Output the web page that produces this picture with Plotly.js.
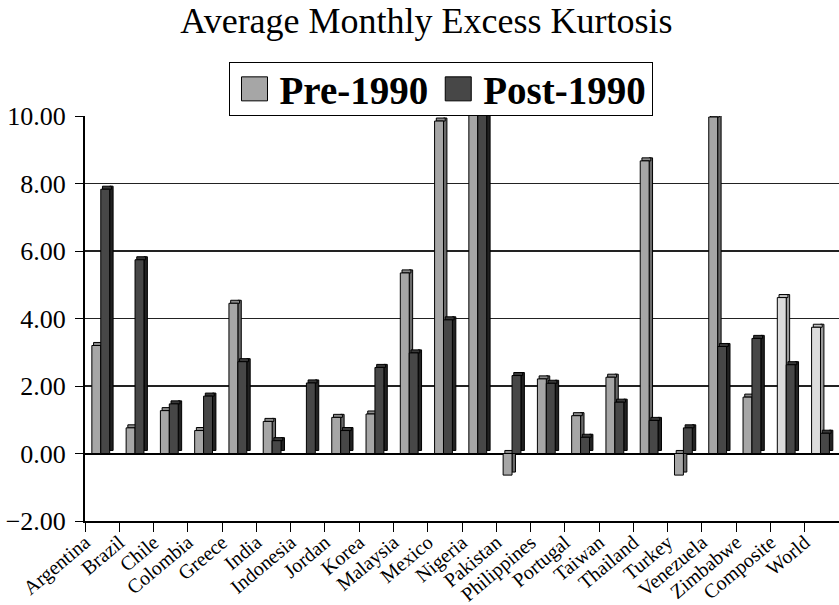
<!DOCTYPE html>
<html>
<head>
<meta charset="utf-8">
<script src="https://cdn.plot.ly/plotly-3.0.1.min.js"></script>
<style>
  html, body { margin: 0; padding: 0; background: #fff; }
  #chart { width: 839px; height: 605px; }
</style>
</head>
<body>
<div id="chart"></div>
<script>
// ---- data ----
const categories = ['Argentina','Brazil','Chile','Colombia','Greece','India','Indonesia','Jordan','Korea','Malaysia','Mexico','Nigeria','Pakistan','Philippines','Portugal','Taiwan','Thailand','Turkey','Venezuela','Zimbabwe','Composite','World'];
const pre1990  = [3.20, 0.76, 1.27, 0.68, 4.45, 0.95, null, 1.07, 1.17, 5.35, 9.85, 11.5, -0.64, 2.21, 1.12, 2.26, 8.67, -0.64, 9.97, 1.67, 4.62, 3.74];
const post1990 = [7.83, 5.74, 1.47, 1.70, 2.72, 0.38, 2.09, 0.68, 2.55, 2.98, 3.96, 11.5, 2.31, 2.08, 0.48, 1.52, 0.98, 0.76, 3.17, 3.41, 2.63, 0.60];
const yTickVals = [-2, 0, 2, 4, 6, 8, 10];
const seriesNames = ['Pre-1990', 'Post-1990'];
const aggregateCats = ['Composite', 'World'];

// ---- styles ----
const FONT = '"Liberation Serif", "Times New Roman", serif';
const preFront = categories.map(c => aggregateCats.includes(c) ? '#dcdcdc' : '#a6a6a6');
const preTop   = categories.map(c => aggregateCats.includes(c) ? '#c2c2c2' : '#8a8a8a');
const preSide  = categories.map(c => aggregateCats.includes(c) ? '#9a9a9a' : '#6a6a6a');
const postFront = '#474747', postTop = '#383838', postSide = '#222222';
const DEPTH_X = 0.1;   // category units
const DEPTH_Y = 0.09;  // value units
const W = 0.26;
const PRE_OFF = -0.30, POST_OFF = -0.04;
const outline = { color: '#000', width: 1 };

function faces(vals, name, off, front, top, side, showLegend) {
  const sideBase = vals.map(v => v == null ? null : Math.min(v, 0) + DEPTH_Y);
  const sideH    = vals.map(v => v == null ? null : Math.abs(v));
  const topBase  = vals.map(v => v == null ? null : Math.max(v, 0));
  const topH     = vals.map(v => v == null ? null : DEPTH_Y);
  return [
    { type: 'bar', x: categories, y: sideH, base: sideBase, offset: off + W, width: DEPTH_X,
      marker: { color: side, line: outline }, showlegend: false, hoverinfo: 'skip' },
    { type: 'bar', x: categories, y: topH, base: topBase, offset: off + DEPTH_X / 2, width: W,
      marker: { color: top, line: outline }, showlegend: false, hoverinfo: 'skip' },
    { type: 'bar', name: name, x: categories, y: vals, offset: off, width: W,
      marker: { color: front, line: outline }, showlegend: showLegend }
  ];
}

const traces = [].concat(
  faces(pre1990, seriesNames[0], PRE_OFF, preFront, preTop, preSide, true),
  faces(post1990, seriesNames[1], POST_OFF, postFront, postTop, postSide, true)
);

const layout = {
  width: 839, height: 605,
  margin: { l: 85, r: 0, t: 116, b: 84, pad: 0 },
  paper_bgcolor: '#fff', plot_bgcolor: '#fff',
  font: { family: FONT, color: '#000' },
  barmode: 'overlay',
  title: { text: 'Average Monthly Excess Kurtosis', font: { family: FONT, size: 36, color: '#000' },
           xref: 'container', x: 0.5083, xanchor: 'center', yref: 'container', y: 0.966, yanchor: 'middle' },
  xaxis: {
    type: 'category', range: [-0.5, 21.5], tickson: 'boundaries',
    ticks: 'outside', ticklen: 9, tickcolor: '#000', tickwidth: 1,
    showline: true, linecolor: '#000', linewidth: 2,
    showgrid: false, tickangle: -40, ticklabelshift: -17,
    tickfont: { family: FONT, size: 20, color: '#000' }
  },
  yaxis: {
    range: [-2, 10], tickvals: yTickVals, tickformat: '.2f',
    ticks: 'outside', ticklen: 8, tickcolor: '#000', ticklabelstandoff: 4,
    showline: true, linecolor: '#000', linewidth: 2,
    showgrid: true, gridcolor: '#222', gridwidth: 1.2,
    zeroline: true, zerolinecolor: '#000', zerolinewidth: 2,
    tickfont: { family: FONT, size: 26, color: '#000' }
  },
  legend: {
    orientation: 'h', xref: 'paper', x: 0.4715, xanchor: 'center', y: 1, yanchor: 'bottom',
    bgcolor: '#fff', bordercolor: '#000', borderwidth: 1, itemwidth: 40,
    font: { family: FONT, size: 39, color: '#000', weight: 700 },
    traceorder: 'normal'
  },
  showlegend: true
};

Plotly.newPlot('chart', traces, layout, { displayModeBar: false, staticPlot: true }).then(function () {
  // enlarge legend swatches to the reference's size
  document.querySelectorAll('.legend .legendpoints path').forEach(function (p) {
    if (p.getAttribute('d') === 'M6,6H-6V-6H6Z') p.setAttribute('d', 'M13,12H-13V-12H13Z');
  });
  // tighten the legend box height, keeping its bottom edge on the plot top
  var leg = document.querySelector('.legend');
  var bg = leg && leg.querySelector('rect.bg');
  var groups = leg && leg.querySelector('g.groups');
  if (bg && groups) {
    var H = 53, h = parseFloat(bg.getAttribute('height'));
    if (h > H) {
      var d = h - H;
      bg.setAttribute('height', H);
      var m = /translate\(([-\d.]+)[ ,]+([-\d.]+)\)/.exec(leg.getAttribute('transform') || '');
      if (m) leg.setAttribute('transform', 'translate(' + m[1] + ',' + (parseFloat(m[2]) + d) + ')');
      groups.setAttribute('transform', 'translate(0,' + (-d / 2) + ')');
    }
  }
});
</script>
</body>
</html>
